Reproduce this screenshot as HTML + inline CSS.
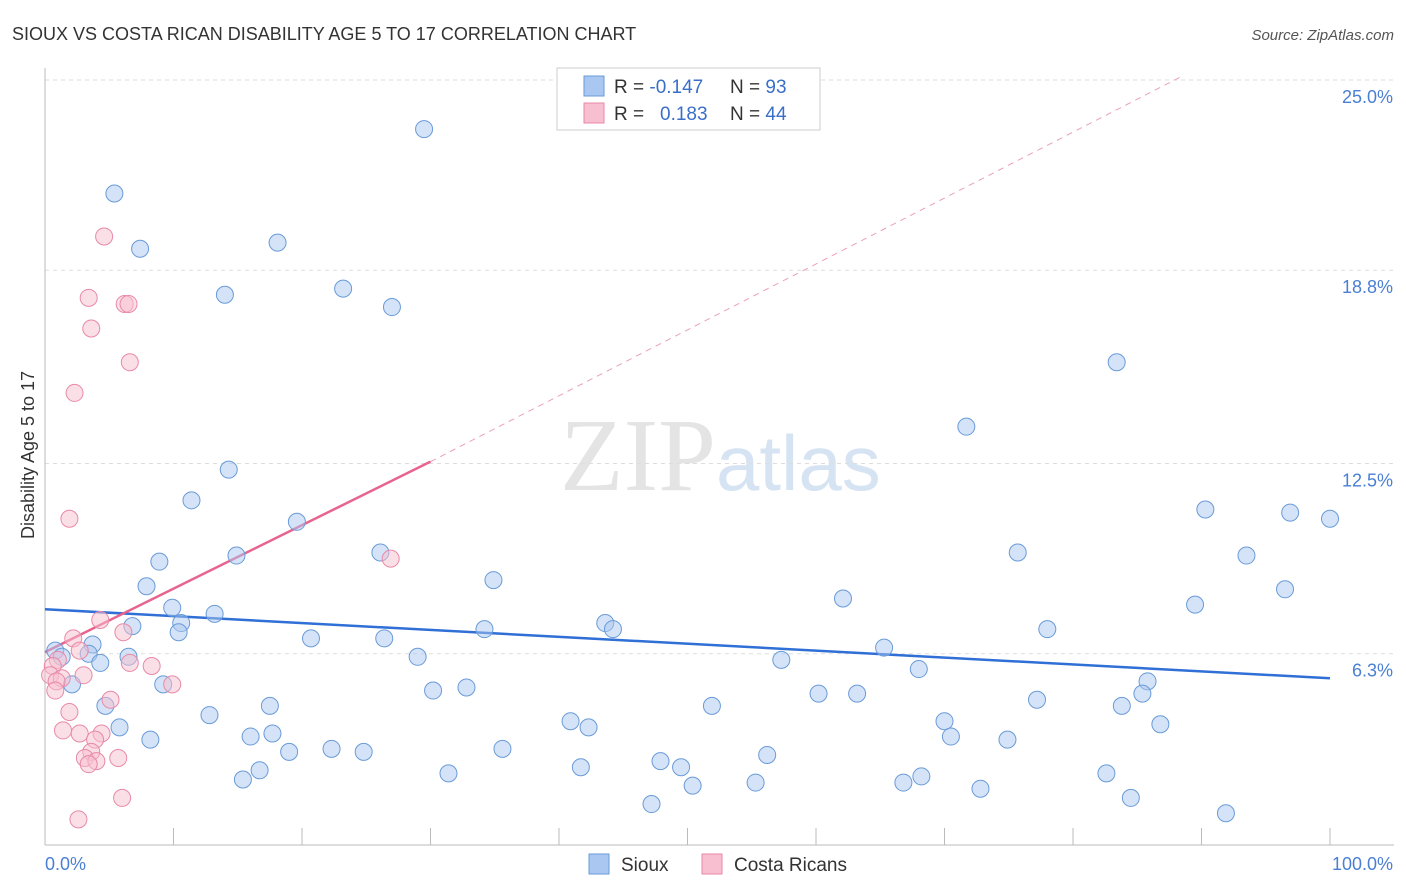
<!DOCTYPE html>
<html><head><meta charset="utf-8"><style>
body{margin:0;background:#fff;font-family:"Liberation Sans",sans-serif}
svg{display:block}
</style></head><body>
<svg width="1406" height="892" viewBox="0 0 1406 892">
<text x="12" y="40" font-size="18" fill="#333">SIOUX VS COSTA RICAN DISABILITY AGE 5 TO 17 CORRELATION CHART</text>
<text x="1394" y="40" font-size="15" fill="#555" font-style="italic" text-anchor="end">Source: ZipAtlas.com</text>
<text x="716" y="490" font-size="104" fill="#e4e4e4" font-family="Liberation Serif" text-anchor="end">ZIP</text>
<text x="716" y="490" font-size="78" fill="#d6e3f3">atlas</text>
<g id="grid"></g><g id="axes"></g><g id="lines"></g><g id="pts"></g>
<text transform="translate(34,455) rotate(-90)" font-size="18" fill="#333" text-anchor="middle">Disability Age 5 to 17</text>
<text x="45" y="870" font-size="18" fill="#4a7fd4">0.0%</text>
<text x="1393" y="870" font-size="18" fill="#4a7fd4" text-anchor="end">100.0%</text>
<g>
<rect x="557" y="68" width="263" height="62" fill="#fff" stroke="#ccc"/>
<rect x="584" y="76" width="20" height="20" fill="#a9c7f0" stroke="#6a9bd8"/>
<rect x="584" y="103" width="20" height="20" fill="#f7bfd0" stroke="#e88aa8"/>
<text x="614" y="93" font-size="19" fill="#333">R = <tspan fill="#3a6fc9">-0.147</tspan><tspan x="730">N = </tspan><tspan fill="#3a6fc9">93</tspan></text>
<text x="614" y="120" font-size="19" fill="#333">R = <tspan x="660" fill="#3a6fc9">0.183</tspan><tspan x="730">N = </tspan><tspan fill="#3a6fc9">44</tspan></text>
</g>
<g>
<rect x="589" y="854" width="20" height="20" fill="#a9c7f0" stroke="#6a9bd8"/>
<text x="621" y="871" font-size="19" fill="#333">Sioux</text>
<rect x="702" y="854" width="20" height="20" fill="#f7bfd0" stroke="#e88aa8"/>
<text x="734" y="871" font-size="19" fill="#333">Costa Ricans</text>
</g>
</svg>
<script>
const yTicks=[6.3,12.5,18.8,25.0];
const yTickLabels=["6.3%","12.5%","18.8%","25.0%"];
const xTicks=[0,10,20,30,40,50,60,70,80,90,100];
const siouxX=[29.5,5.4,7.4,18.1,14.0,23.2,27.0,83.4,71.7,14.3,11.4,19.6,90.3,96.9,100,75.7,93.5,26.1,14.9,8.9,34.9,7.9,96.5,62.1,89.5,9.9,13.2,10.6,43.6,44.2,6.8,10.4,34.2,78.0,20.7,26.4,3.7,65.3,0.8,1.3,3.4,6.5,4.3,29.0,57.3,68.0,2.1,9.2,32.8,30.2,60.2,63.2,85.8,85.4,77.2,17.5,51.9,4.7,83.8,12.8,70.0,40.9,86.8,42.3,5.8,17.7,70.5,16.0,8.2,74.9,35.6,22.3,24.8,19.0,56.2,47.9,41.7,49.5,16.7,31.4,82.6,15.4,68.2,66.8,50.4,55.3,72.8,84.5,47.2,91.9];
const siouxY=[23.4,21.3,19.5,19.7,18.0,18.2,17.6,15.8,13.7,12.3,11.3,10.6,11.0,10.9,10.7,9.6,9.5,9.6,9.5,9.3,8.7,8.5,8.4,8.1,7.9,7.8,7.6,7.3,7.3,7.1,7.2,7.0,7.1,7.1,6.8,6.8,6.6,6.5,6.4,6.2,6.3,6.2,6.0,6.2,6.1,5.8,5.3,5.3,5.2,5.1,5.0,5.0,5.4,5.0,4.8,4.6,4.6,4.6,4.6,4.3,4.1,4.1,4.0,3.9,3.9,3.7,3.6,3.6,3.5,3.5,3.2,3.2,3.1,3.1,3.0,2.8,2.6,2.6,2.5,2.4,2.4,2.2,2.3,2.1,2.0,2.1,1.9,1.6,1.4,1.1];
const costaX=[4.6,3.4,6.2,6.5,3.6,6.6,2.3,1.9,26.9,4.3,6.1,2.2,2.7,1.0,8.3,6.6,0.6,3.0,0.4,1.3,0.9,9.9,0.8,5.1,1.9,1.4,2.7,4.4,3.9,3.6,3.1,5.7,4.0,3.4,6.0,2.6];
const costaY=[19.9,17.9,17.7,17.7,16.9,15.8,14.8,10.7,9.4,7.4,7.0,6.8,6.4,6.1,5.9,6.0,5.9,5.6,5.6,5.5,5.4,5.3,5.1,4.8,4.4,3.8,3.7,3.7,3.5,3.1,2.9,2.9,2.8,2.7,1.6,0.9];
const siouxTrend=[7.75,5.5];
const costaTrend=[6.35,0.207];
const NS="http://www.w3.org/2000/svg";
const X=v=>45+v*12.85, Y=v=>847-v*30.68;
function mk(p,t,a){const e=document.createElementNS(NS,t);for(const k in a)e.setAttribute(k,a[k]);document.getElementById(p).appendChild(e);return e;}
yTicks.forEach((v,i)=>{
 const g=mk('grid','line',{x1:45,x2:1394,y1:Y(v),y2:Y(v),stroke:'#ddd','stroke-dasharray':'4,4'});
 
 
 const t=mk('grid','text',{x:1393,y:Y(v)+23,'font-size':18,fill:'#4a7fd4','text-anchor':'end'});t.textContent=yTickLabels[i];
 
 
});
const ax=mk('axes','line',{x1:45,x2:1394,y1:845,y2:845,stroke:'#bbb'});


const ay=mk('axes','line',{x1:45,x2:45,y1:68,y2:845,stroke:'#bbb'});


xTicks.forEach(v=>{const t=mk('axes','line',{x1:X(v),x2:X(v),y1:828,y2:845,stroke:'#bbb'});
 
 });
function pts(xs,ys,fill,stroke,name){xs.forEach((x,i)=>{const c=mk('pts','circle',{cx:X(x),cy:Y(ys[i]),r:8.5,fill:fill,'fill-opacity':0.5,stroke:stroke,'stroke-width':1});
 
 });}
pts(siouxX,siouxY,'#a9c7f0','#6a9bd8','sioux-point');
pts(costaX,costaY,'#f7bfd0','#e88aa8','costa-rican-point');
const bl=mk('lines','line',{x1:X(0),y1:Y(siouxTrend[0]),x2:X(100),y2:Y(siouxTrend[1]),stroke:'#2f6fd6','stroke-width':2.5});


const pl=mk('lines','line',{x1:X(0),y1:Y(costaTrend[0]),x2:X(30),y2:Y(costaTrend[0]+costaTrend[1]*30),stroke:'#e8648e','stroke-width':2.5});


const pd=mk('lines','line',{x1:X(30),y1:Y(costaTrend[0]+costaTrend[1]*30),x2:X(88.3),y2:Y(costaTrend[0]+costaTrend[1]*90.5),stroke:'#eaa0b8','stroke-width':1,'stroke-dasharray':'6,5'});


</script>
</body></html>
